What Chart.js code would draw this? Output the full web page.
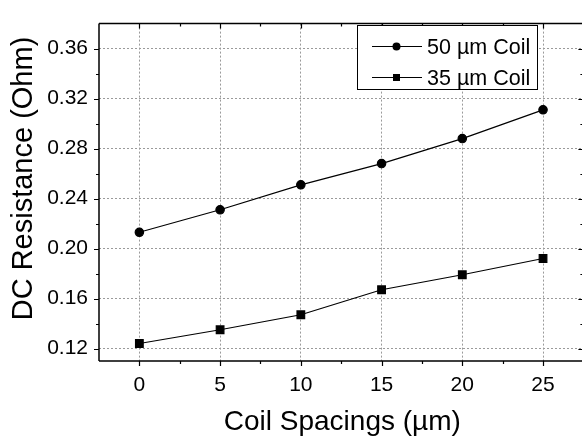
<!DOCTYPE html>
<html>
<head>
<meta charset="utf-8">
<script src="https://cdn.jsdelivr.net/npm/chart.js@4.4.1/dist/chart.umd.min.js"></script>
<style>
  html, body { margin: 0; padding: 0; background: #fff; overflow: hidden; }
  #wrap { width: 582px; height: 438px; overflow: hidden; position: relative; }
  canvas { display: block; }
</style>
</head>
<body>
<div id="wrap"><canvas id="c" width="590" height="438"></canvas></div>
<script>
// ---- data ----
const spacings = [0, 5, 10, 15, 20, 25];
const coil50 = [0.213, 0.231, 0.251, 0.268, 0.288, 0.311];
const coil35 = [0.124, 0.135, 0.147, 0.167, 0.179, 0.192];
const seriesLabels = ['50 \u00B5m Coil', '35 \u00B5m Coil'];
const xTickValues = [0, 5, 10, 15, 20, 25];
const xMinorValues = [2.5, 7.5, 12.5, 17.5, 22.5];
const yTickValues = [0.12, 0.16, 0.20, 0.24, 0.28, 0.32, 0.36];
const yMinorValues = [0.14, 0.18, 0.22, 0.26, 0.30, 0.34];
const xTitle = 'Coil Spacings (\u00B5m)';
const yTitle = 'DC Resistance (Ohm)';

const FONT = "'Liberation Sans', Arial, sans-serif";

const framePlugin = {
  id: 'frame',
  afterDatasetsDraw(chart) {
    const { ctx, chartArea: { left, right, top, bottom }, scales: { x, y } } = chart;
    ctx.save();
    ctx.strokeStyle = '#000';
    ctx.lineWidth = 1.5;
    ctx.beginPath();
    ctx.moveTo(left, top); ctx.lineTo(right, top);
    ctx.moveTo(right, top); ctx.lineTo(right, bottom);
    ctx.moveTo(left, bottom); ctx.lineTo(right, bottom);
    ctx.moveTo(left, top); ctx.lineTo(left, bottom);
    ctx.stroke();
    ctx.lineWidth = 1.2;
    ctx.beginPath();
    const tick = (vals, len) => {
      vals.forEach(v => {
        const px = Math.round(x.getPixelForValue(v)) + 0.5;
        ctx.moveTo(px, bottom); ctx.lineTo(px, bottom + len);
        ctx.moveTo(px, top); ctx.lineTo(px, top + len);
      });
    };
    const ytick = (vals, len) => {
      vals.forEach(v => {
        const py = Math.round(y.getPixelForValue(v)) + 0.5;
        ctx.moveTo(left, py); ctx.lineTo(left - len, py);
        ctx.moveTo(right, py); ctx.lineTo(right - len, py);
      });
    };
    tick(xTickValues, 5); tick(xMinorValues, 3);
    ytick(yTickValues, 5); ytick(yMinorValues, 3);
    ctx.stroke();

    // legend
    const lx = 357.5, ly = 25.5, lw = 180, lh = 64;
    ctx.fillStyle = '#fff';
    ctx.fillRect(lx, ly, lw, lh);
    ctx.lineWidth = 1;
    ctx.strokeStyle = '#000';
    ctx.strokeRect(lx, ly, lw, lh);
    const rows = [46.5, 77.5];
    chart.data.datasets.forEach((ds, i) => {
      const ry = rows[i];
      ctx.strokeStyle = '#000';
      ctx.lineWidth = 1.2;
      ctx.beginPath();
      ctx.moveTo(372, ry); ctx.lineTo(422, ry);
      ctx.stroke();
      ctx.fillStyle = '#000';
      if (ds.pointStyle === 'circle') {
        ctx.beginPath(); ctx.arc(396.5, ry, 4, 0, Math.PI * 2); ctx.fill();
      } else {
        ctx.fillRect(393, ry - 3.5, 7, 7);
      }
      ctx.font = '21.5px ' + FONT;
      ctx.textBaseline = 'alphabetic';
      ctx.textAlign = 'left';
      ctx.fillText(ds.label, 427, ry + 7.5);
    });

    // axis titles
    ctx.fillStyle = '#000';
    ctx.textAlign = 'center';
    ctx.textBaseline = 'alphabetic';
    ctx.font = '28px ' + FONT;
    ctx.fillText(xTitle, 342.3, 429.5);
    ctx.save();
    ctx.translate(32, 178.5);
    ctx.rotate(-Math.PI / 2);
    ctx.font = '29px ' + FONT;
    ctx.fillText(yTitle, 0, 0);
    ctx.restore();
    ctx.restore();
  }
};

new Chart(document.getElementById('c'), {
  type: 'line',
  data: {
    datasets: [
      {
        label: seriesLabels[0],
        data: spacings.map((s, i) => ({ x: s, y: coil50[i] })),
        borderColor: '#000', backgroundColor: '#000', borderWidth: 1.2,
        pointStyle: 'circle', pointRadius: 4.2, pointHoverRadius: 4.2, tension: 0
      },
      {
        label: seriesLabels[1],
        data: spacings.map((s, i) => ({ x: s, y: coil35[i] })),
        borderColor: '#000', backgroundColor: '#000', borderWidth: 1.2,
        pointStyle: 'rect', pointRadius: 5.4, pointHoverRadius: 5.4, tension: 0
      }
    ]
  },
  options: {
    responsive: false,
    animation: false,
    devicePixelRatio: 1,
    layout: { padding: { top: 10, right: 4, left: 0, bottom: 0 } },
    plugins: { legend: { display: false }, tooltip: { enabled: false } },
    scales: {
      x: {
        type: 'linear', min: -2.5, max: 27.5,
        afterBuildTicks: s => { s.ticks = xTickValues.map(v => ({ value: v })); },
        afterFit: s => { s.height = 77; },
        grid: { color: '#9a9a9a', lineWidth: 1, drawTicks: false },
        border: { display: false, dash: [2, 2] },
        ticks: { color: '#000', font: { family: FONT, size: 21 }, padding: 12, maxRotation: 0 },
        title: { display: false }
      },
      y: {
        type: 'linear', min: 0.11, max: 0.38,
        afterBuildTicks: s => { s.ticks = yTickValues.map(v => ({ value: v })); },
        afterFit: s => { s.width = 99; },
        grid: { color: '#9a9a9a', lineWidth: 1, drawTicks: false },
        border: { display: false, dash: [2, 2] },
        ticks: { color: '#000', font: { family: FONT, size: 21 }, padding: 11, callback: v => v.toFixed(2) },
        title: { display: false }
      }
    }
  },
  plugins: [framePlugin]
});
</script>
</body>
</html>
